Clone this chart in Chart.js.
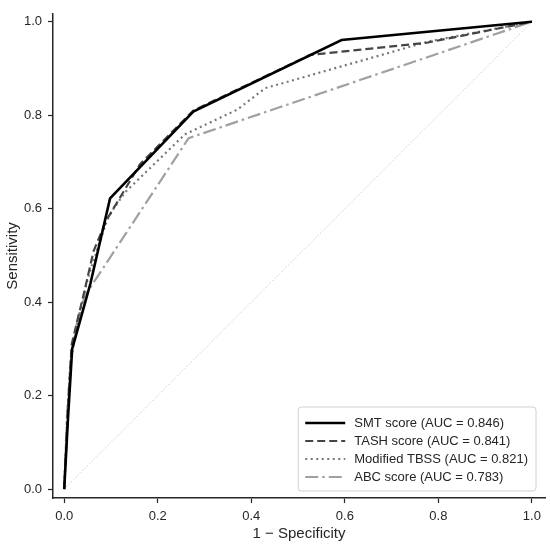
<!DOCTYPE html>
<html lang="en">
  <head>
    <meta charset="UTF-8" />
    <style>
      body {
        margin: 0;
        background-color: #ffffff;
      }
      #wrap {
        width: 550px;
        height: 548px;
        position: relative;
      }
    </style>
    <title>ROC curves</title>
  </head>
  <body>
    <div id="wrap"><canvas id="roc"></canvas></div>

    <script src="https://cdn.jsdelivr.net/npm/chart.js"></script>
    <script>
      // values
      const smtX = [0, 0.008, 0.017, 0.038, 0.056, 0.098, 0.276, 0.593, 1];
      const smtY = [0, 0.15, 0.3, 0.375, 0.44, 0.622, 0.808, 0.961, 1];
      const tashX = [0, 0.008, 0.016, 0.04, 0.063, 0.09, 0.12, 0.162, 0.276, 0.526, 0.775, 1];
      const tashY = [0, 0.17, 0.31, 0.41, 0.51, 0.575, 0.625, 0.695, 0.81, 0.929, 0.955, 1];
      const tbssX = [0, 0.006, 0.013, 0.024, 0.05, 0.091, 0.102, 0.13, 0.258, 0.37, 0.43, 0.78, 1];
      const tbssY = [0, 0.15, 0.27, 0.33, 0.45, 0.574, 0.595, 0.635, 0.759, 0.812, 0.858, 0.958, 1];
      const abcX = [0, 0.006, 0.015, 0.03, 0.045, 0.266, 1];
      const abcY = [0, 0.16, 0.29, 0.37, 0.415, 0.751, 1];
      const chanceX = [0, 1];
      const chanceY = [0, 1];

      const seriesLabels = [
        "SMT score (AUC = 0.846)",
        "TASH score (AUC = 0.841)",
        "Modified TBSS (AUC = 0.821)",
        "ABC score (AUC = 0.783)",
      ];
      const tickValues = [0, 0.2, 0.4, 0.6, 0.8, 1.0];

      const pts = (xs, ys) => xs.map((x, i) => ({ x: x, y: ys[i] }));

      const FONT = "'Liberation Sans', Arial, sans-serif";
      const INK = "#262626";

      // legend box drawn inside the plot, bottom right
      const boxLegend = {
        id: "boxLegend",
        afterDraw(chart) {
          const ctx = chart.ctx;
          const area = chart.chartArea;
          const sets = chart.data.datasets.filter((d) => !d.noLegend);
          ctx.save();
          ctx.font = "13px " + FONT;
          let textW = 0;
          sets.forEach((d) => {
            textW = Math.max(textW, ctx.measureText(d.label).width);
          });
          const handle = 40;
          const w = 7 + handle + 9 + textW + 8;
          const h = 84;
          const left = area.right - 9 - w;
          const top = area.bottom - 7 - h;

          ctx.beginPath();
          ctx.roundRect(left, top, w, h, 3);
          ctx.fillStyle = "rgba(255,255,255,0.85)";
          ctx.fill();
          ctx.lineWidth = 1;
          ctx.strokeStyle = "#d0d0d0";
          ctx.stroke();

          sets.forEach((d, i) => {
            const y = top + 16 + i * 18;
            ctx.beginPath();
            ctx.setLineDash(d.borderDash || []);
            ctx.lineWidth = d.borderWidth;
            ctx.strokeStyle = d.borderColor;
            ctx.moveTo(left + 7, y);
            ctx.lineTo(left + 7 + handle, y);
            ctx.stroke();
            ctx.setLineDash([]);
            ctx.fillStyle = INK;
            ctx.textBaseline = "middle";
            ctx.fillText(d.label, left + 7 + handle + 9, y);
          });
          ctx.restore();
        },
      };

      const axis = (title, titlePad) => ({
        type: "linear",
        afterBuildTicks: (scale) => {
          scale.ticks = tickValues.map((v) => ({ value: v }));
        },
        ticks: {
          color: INK,
          font: { family: FONT, size: 13 },
          padding: 6,
          callback: (v) => Number(v).toFixed(1),
        },
        grid: {
          drawOnChartArea: false,
          drawTicks: true,
          tickLength: 5,
          tickWidth: 1.2,
          tickColor: INK,
        },
        border: { display: true, color: INK, width: 1.5 },
        title: {
          display: true,
          text: title,
          color: INK,
          font: { family: FONT, size: 15 },
          padding: { top: titlePad, bottom: titlePad },
        },
      });

      const xAxis = axis("1 \u2212 Specificity", 5);
      xAxis.min = -0.024;
      xAxis.max = 1.028;
      xAxis.afterFit = (scale) => {
        scale.height = 50;
      };
      const yAxis = axis("Sensitivity", 4);
      yAxis.min = -0.019;
      yAxis.max = 1.017;
      yAxis.afterFit = (scale) => {
        scale.width = 53;
      };

      new Chart(document.querySelector("#roc").getContext("2d"), {
        type: "line",
        data: {
          datasets: [
            {
              label: seriesLabels[0],
              data: pts(smtX, smtY),
              borderColor: "#000000",
              borderWidth: 2.6,
            },
            {
              label: seriesLabels[1],
              data: pts(tashX, tashY),
              borderColor: "#454545",
              borderWidth: 2.2,
              borderDash: [8, 4],
            },
            {
              label: seriesLabels[2],
              data: pts(tbssX, tbssY),
              borderColor: "#777777",
              borderWidth: 2.2,
              borderDash: [2, 3.5],
            },
            {
              label: seriesLabels[3],
              data: pts(abcX, abcY),
              borderColor: "#a0a0a0",
              borderWidth: 2.2,
              borderDash: [13, 4, 2.5, 4],
            },
            {
              label: "chance",
              noLegend: true,
              data: pts(chanceX, chanceY),
              borderColor: "#bdbdbd",
              borderWidth: 0.9,
              borderDash: [1.2, 2],
            },
          ],
        },
        options: {
          responsive: true,
          maintainAspectRatio: false,
          animation: false,
          layout: { padding: { top: 12, right: 5, left: 0, bottom: 0 } },
          elements: {
            point: { radius: 0 },
            line: { tension: 0, fill: false },
          },
          scales: { x: xAxis, y: yAxis },
          plugins: {
            legend: { display: false },
            tooltip: { enabled: false },
          },
        },
        plugins: [boxLegend],
      });
    </script>
  </body>
</html>
